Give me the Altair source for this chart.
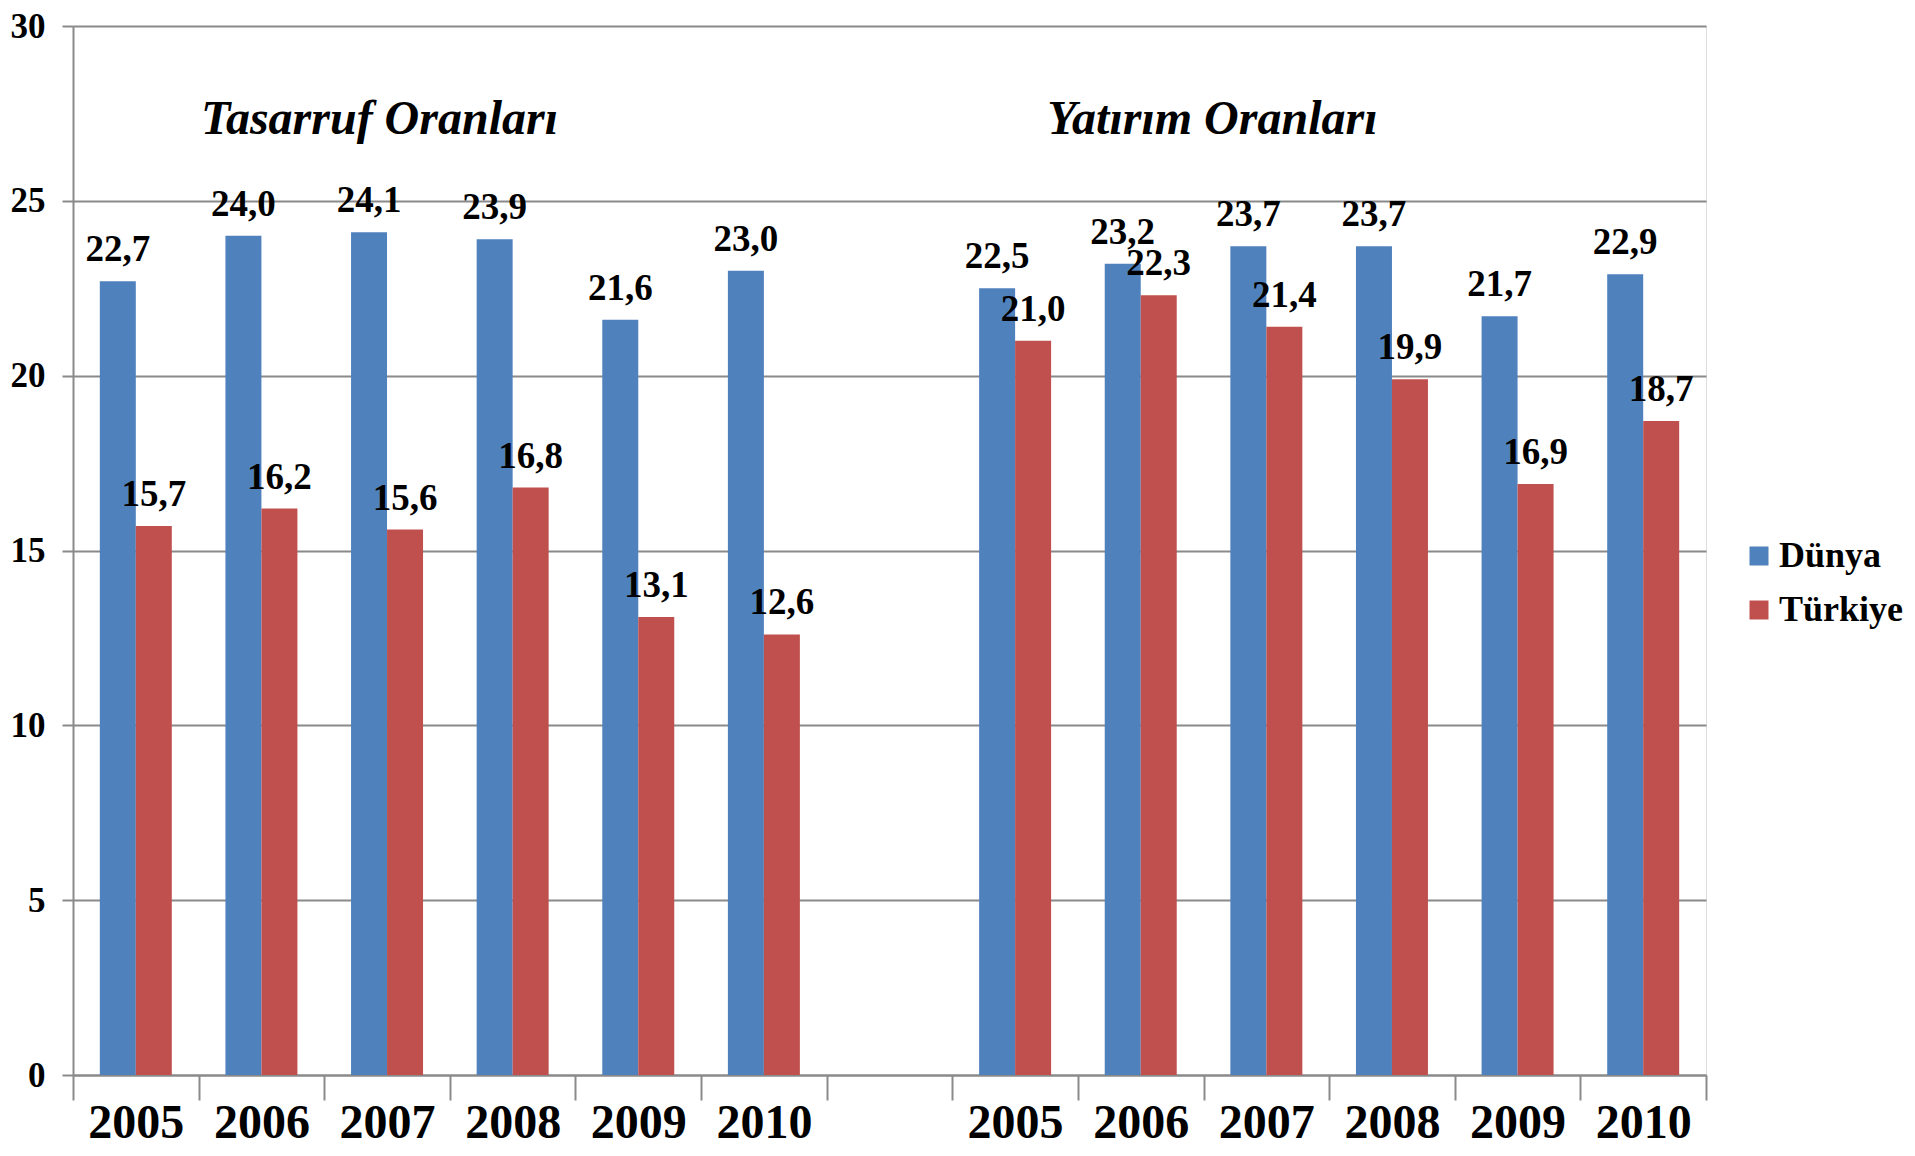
import altair as alt
import pandas as pd

years = ["2005", "2006", "2007", "2008", "2009", "2010"]
tasarruf_dunya = [22.7, 24.0, 24.1, 23.9, 21.6, 23.0]
tasarruf_turkiye = [15.7, 16.2, 15.6, 16.8, 13.1, 12.6]
yatirim_dunya = [22.5, 23.2, 23.7, 23.7, 21.7, 22.9]
yatirim_turkiye = [21.0, 22.3, 21.4, 19.9, 16.9, 18.7]
series = ["Dünya", "Türkiye"]
colors = ["#4F81BD", "#C0504D"]
group_titles = ["Tasarruf Oranları", "Yatırım Oranları"]
title_level = 26.9

keys = ["T" + y for y in years] + ["gap"] + ["Y" + y for y in years]

rows = []
for prefix, d, t in (("T", tasarruf_dunya, tasarruf_turkiye), ("Y", yatirim_dunya, yatirim_turkiye)):
    for i, y in enumerate(years):
        rows.append({"key": prefix + y, "seri": series[0], "deger": d[i]})
        rows.append({"key": prefix + y, "seri": series[1], "deger": t[i]})
df = pd.DataFrame(rows)
df["etiket"] = df["deger"].map(lambda v: f"{v:.1f}".replace(".", ","))

FONT = "Liberation Serif"
GRAY = "#8A8A8A"

x_enc = alt.X(
    "key:N",
    scale=alt.Scale(domain=keys, paddingInner=0, paddingOuter=0),
    axis=alt.Axis(
        title=None,
        labelExpr="(!isString(datum.value) || datum.value == 'gap') ? '' : substring(datum.value, 1)",
        labelFont=FONT, labelFontSize=48, labelFontWeight="bold", labelColor="black",
        labelAngle=0, labelBaseline="alphabetic", labelPadding=37,
        tickBand="extent", tickSize=25, tickColor=GRAY, tickWidth=2,
        domainColor=GRAY, domainWidth=2, grid=False,
    ),
)
y_enc = alt.Y(
    "deger:Q",
    scale=alt.Scale(domain=[0, 30], nice=False),
    axis=alt.Axis(
        title=None, values=[0, 5, 10, 15, 20, 25, 30],
        labelFont=FONT, labelFontSize=35, labelFontWeight="bold", labelColor="black",
        labelPadding=17, tickSize=11, tickColor=GRAY, tickWidth=2,
        domainColor=GRAY, domainWidth=2, grid=True, gridColor=GRAY, gridWidth=2,
    ),
)
xoff = alt.XOffset("seri:N", scale=alt.Scale(domain=series, paddingInner=0, paddingOuter=0.745))

bars = alt.Chart(df).mark_bar().encode(
    x=x_enc,
    xOffset=xoff,
    y=y_enc,
    color=alt.Color(
        "seri:N",
        scale=alt.Scale(domain=series, range=colors),
        legend=alt.Legend(
            title=None, orient="none", legendX=1668, legendY=512,
            symbolType="square", symbolSize=361, symbolStrokeWidth=0,
            labelFont=FONT, labelFontSize=36, labelFontWeight="bold", labelColor="black",
            labelOffset=2, rowPadding=18, padding=0,
        ),
    ),
)

labels = alt.Chart(df).mark_text(
    font=FONT, fontSize=37, fontWeight="bold", color="black", baseline="alphabetic", dy=-20
).encode(
    x=alt.X("key:N"),
    xOffset=xoff,
    y=alt.Y("deger:Q"),
    text="etiket:N",
)

t1 = pd.DataFrame({"key": ["T2007"], "deger": [title_level], "baslik": [group_titles[0]]})
t2 = pd.DataFrame({"key": ["Y2007"], "deger": [title_level], "baslik": [group_titles[1]]})
title1 = alt.Chart(t1).mark_text(
    font=FONT, fontSize=48, fontWeight="bold", fontStyle="italic", color="black", baseline="alphabetic"
).encode(x=alt.X("key:N", bandPosition=0.44), y=alt.Y("deger:Q"), text="baslik:N")
title2 = alt.Chart(t2).mark_text(
    font=FONT, fontSize=48, fontWeight="bold", fontStyle="italic", color="black", baseline="alphabetic"
).encode(x=alt.X("key:N", bandPosition=0.07), y=alt.Y("deger:Q"), text="baslik:N")

chart = alt.layer(bars, labels, title1, title2).properties(
    width=1633, height=1049,
    autosize=alt.AutoSizeParams(type="none"),
    padding={"left": 65, "top": 18, "right": 200, "bottom": 73},
).configure_view(stroke=None).configure(background="white")

chart.save("out.html", embed_options={"renderer": "svg", "actions": False})
